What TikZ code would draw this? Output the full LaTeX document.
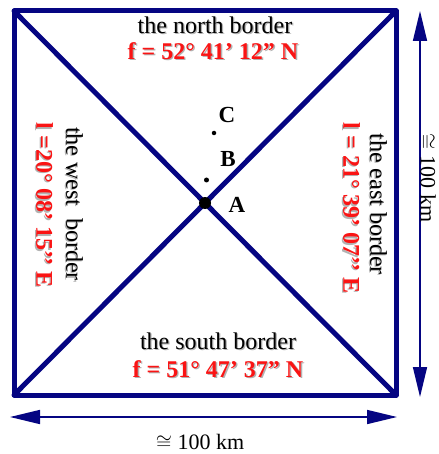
\documentclass[tikz,border=0pt]{standalone}
\usepackage{fontspec}
\setmainfont{Liberation Serif}
\usetikzlibrary{arrows.meta}
\definecolor{borderblue}{RGB}{5,5,130}
\definecolor{coordred}{RGB}{250,20,20}
\newcommand\shadowtext[1]{\makebox[0pt][l]{\kern1.3pt\raisebox{-1.3pt}{\textcolor{black!30}{#1}}}#1}

\begin{document}
\begin{tikzpicture}[
    x=1pt, y=-1pt,
    border/.style={draw=borderblue, line width=5pt, line join=round, line cap=round},
    dimline/.style={draw=borderblue, line width=1.6pt,
      {Triangle[length=30pt,width=14pt]}-{Triangle[length=30pt,width=14pt]}},
    bordername/.style={inner sep=0pt, font=\fontsize{24}{28}\selectfont},
    coordtext/.style={inner sep=0pt, text=coordred, font=\fontsize{24}{28}\selectfont\bfseries},
    pointlabel/.style={inner sep=0pt, font=\fontsize{23}{26}\selectfont\bfseries},
    dimlabel/.style={inner sep=0pt, font=\fontsize{22}{26}\selectfont},
    dot/.style={circle, fill=black, inner sep=0pt}
  ]
  \useasboundingbox (0,0) rectangle (438,454);

  % corners of the square
  \coordinate (nw) at (14,11);
  \coordinate (ne) at (396,11);
  \coordinate (se) at (396,395);
  \coordinate (sw) at (14,395);

  \draw[border] (nw) -- (ne) -- (se) -- (sw) -- cycle;
  \draw[border] (nw) -- (se);
  \draw[border] (ne) -- (sw);

  % border names and coordinates
  \node[bordername] (north)  at (215,26)  {\shadowtext{the north border}};
  \node[coordtext]  (northc) at (213,52)  {\shadowtext{f = 52° 41’ 12” N}};
  \node[bordername] (south)  at (218,342) {\shadowtext{the south border}};
  \node[coordtext]  (southc) at (218,370) {\shadowtext{f = 51° 47’ 37” N}};
  \node[bordername, rotate=-90] (west)  at (74,204) {\shadowtext{the west\ \ border}};
  \node[coordtext,  rotate=-90] (westc) at (44,205) {\shadowtext{l =20° 08’ 15’’ E}};
  \node[bordername, rotate=-90] (east)  at (378,204) {\shadowtext{the east border}};
  \node[coordtext,  rotate=-90] (eastc) at (351,208) {\shadowtext{l = 21° 39’ 07’’ E}};

  % points
  \node[dot, minimum size=12pt] (A) at (205,203) {};
  \node[dot, minimum size=5pt]  (B) at (206.5,180) {};
  \node[dot, minimum size=4.5pt] (C) at (214,133) {};
  \node[pointlabel] (Alab) at (237,205) {A};
  \node[pointlabel] (Blab) at (228,159) {B};
  \node[pointlabel] (Clab) at (227,115) {C};

  % dimensions
  \coordinate (vtop) at (420,11);
  \coordinate (vbot) at (420,397);
  \coordinate (hleft)  at (10,417);
  \coordinate (hright) at (397,417);
  \draw[dimline] (vbot) -- (vtop);
  \draw[dimline] (hleft) -- (hright);
  \node[dimlabel, rotate=-90] (vdim) at (428,178) {$\cong$ 100 km};
  \node[dimlabel] (hdim) at (200,442) {$\cong$ 100 km};
\end{tikzpicture}
\end{document}
